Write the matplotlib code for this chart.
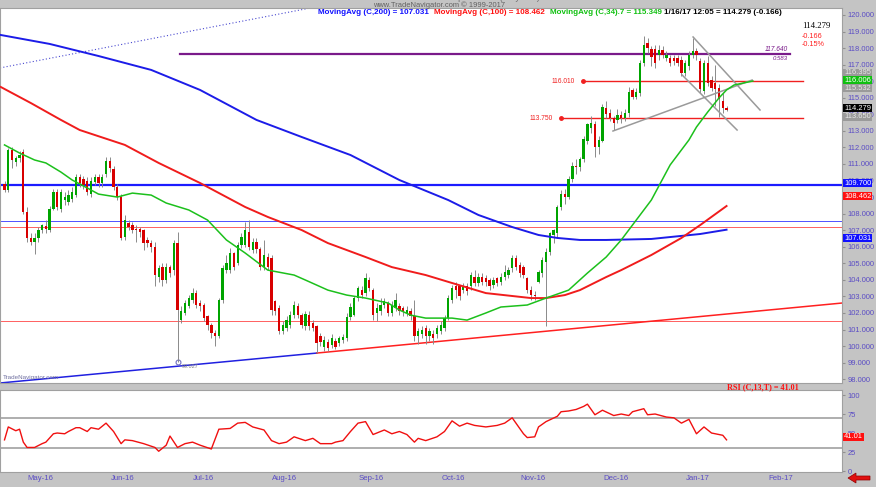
import numpy as np
import pandas as pd
import matplotlib
matplotlib.use("Agg")
import matplotlib.pyplot as plt
from matplotlib.patches import Polygon
from matplotlib.transforms import ScaledTranslation

# USD/JPY daily bars, 21 Apr 2016 .. 16 Jan 2017
opens = [109.80, 109.43, 111.84, 111.14, 111.34, 111.70, 108.12, 106.50, 106.30, 106.50,
         107.00, 107.25, 107.00, 108.30, 109.30, 108.30, 108.80, 108.70, 108.90, 109.10,
         110.20, 110.10, 110.00, 109.20, 109.90, 110.20, 109.85, 110.40, 111.15, 110.70,
         109.60, 109.00, 106.60, 107.45, 107.30, 107.10, 107.05, 107.00, 106.40, 106.20,
         106.00, 104.20, 104.80, 104.00, 104.75, 104.60, 106.20, 101.60, 102.00, 102.40,
         102.80, 103.20, 102.60, 102.50, 101.80, 101.30, 100.80, 100.60, 102.80, 104.60,
         104.60, 105.60, 105.00, 106.10, 106.10, 106.90, 105.80, 106.30, 105.85, 104.80,
         105.40, 105.30, 102.70, 102.30, 100.90, 101.10, 101.30, 101.90, 102.40, 101.90,
         101.20, 101.90, 101.40, 101.20, 100.60, 99.96, 100.26, 100.06, 100.30, 100.16,
         100.36, 100.46, 101.77, 101.90, 102.90, 103.40, 103.20, 104.00, 103.40, 102.00,
         102.10, 102.50, 102.60, 102.00, 102.30, 102.40, 102.30, 102.00, 102.10, 101.80,
         100.60, 100.70, 101.10, 100.60, 100.70, 100.70, 100.90, 101.10, 101.70, 102.80,
         103.60, 103.60, 103.40, 103.60, 103.60, 104.20, 103.80, 104.20, 104.10, 104.00,
         103.70, 104.10, 103.90, 104.20, 104.30, 104.70, 105.30, 104.90, 104.80, 104.10,
         103.40, 103.10, 103.90, 104.40, 105.10, 105.70, 106.70, 106.80, 108.40, 109.20,
         109.00, 110.10, 110.90, 110.80, 111.30, 112.40, 113.20, 113.40, 112.00, 112.40,
         114.40, 114.10, 113.75, 113.65, 113.95, 113.75, 114.05, 115.45, 115.05, 115.30,
         117.10, 118.30, 117.95, 117.95, 117.60, 117.90, 117.40, 117.40, 117.40, 117.40,
         117.30, 116.50, 116.90, 117.60, 117.80, 117.20, 115.40, 117.10, 116.10, 115.90,
         115.60, 114.80, 114.40]
highs = [109.95, 111.95, 112.00, 111.50, 111.80, 111.90, 108.40, 106.80, 106.80, 107.20,
         107.40, 107.60, 108.45, 109.50, 109.50, 109.50, 109.30, 109.40, 109.60, 110.40,
         110.40, 110.30, 110.20, 110.20, 110.40, 110.40, 110.40, 111.45, 111.40, 110.90,
         109.80, 109.20, 107.90, 107.60, 107.50, 107.30, 107.20, 107.10, 106.60, 106.40,
         106.30, 104.90, 105.00, 105.00, 104.90, 106.40, 106.90, 102.40, 102.80, 103.10,
         103.50, 103.40, 102.80, 102.60, 101.90, 101.40, 101.00, 102.90, 104.90, 105.50,
         105.90, 105.70, 106.30, 106.80, 107.50, 107.60, 106.50, 106.50, 106.00, 106.40,
         105.60, 105.50, 102.80, 102.50, 101.50, 101.80, 102.10, 102.70, 102.60, 102.00,
         102.10, 102.10, 101.60, 101.30, 100.80, 100.60, 100.40, 100.70, 100.50, 100.60,
         100.70, 102.00, 102.60, 103.00, 103.60, 103.60, 104.40, 104.20, 103.50, 102.60,
         102.90, 102.90, 102.70, 102.70, 103.20, 102.60, 102.40, 102.40, 102.30, 102.80,
         101.10, 101.20, 101.30, 101.10, 101.00, 101.30, 101.50, 101.90, 103.10, 103.70,
         103.90, 103.70, 103.80, 103.80, 104.50, 104.60, 104.40, 104.40, 104.30, 104.10,
         104.20, 104.20, 104.40, 104.90, 104.80, 105.50, 105.50, 105.10, 104.90, 104.20,
         103.60, 103.30, 104.60, 105.40, 105.90, 106.90, 107.10, 108.50, 109.40, 109.50,
         110.30, 111.10, 111.30, 111.40, 112.70, 113.50, 113.90, 113.60, 112.70, 114.60,
         114.80, 114.30, 113.90, 114.30, 114.20, 114.30, 115.65, 115.60, 115.60, 117.30,
         118.70, 118.60, 118.10, 118.20, 118.20, 118.10, 117.80, 117.60, 117.60, 117.60,
         117.50, 117.30, 117.80, 118.60, 118.00, 117.40, 117.30, 117.50, 116.30, 117.00,
         115.80, 115.30, 114.50]
lows = [109.30, 109.30, 110.75, 110.90, 111.10, 108.00, 106.30, 106.10, 105.55, 106.30,
        106.80, 106.80, 106.90, 108.20, 108.20, 108.10, 108.50, 108.50, 108.70, 109.00,
        109.60, 109.50, 109.10, 109.00, 109.70, 109.60, 109.60, 110.20, 110.50, 109.40,
        108.80, 106.40, 106.40, 107.00, 106.80, 106.30, 106.60, 105.80, 106.00, 105.70,
        103.60, 103.90, 103.60, 103.80, 104.20, 104.30, 99.02, 101.40, 101.90, 102.30,
        102.60, 102.30, 102.10, 101.50, 101.00, 100.50, 100.00, 100.50, 102.60, 104.40,
        104.40, 104.60, 104.90, 105.90, 106.00, 105.80, 105.60, 105.60, 104.60, 104.60,
        104.60, 101.90, 101.90, 100.70, 100.70, 100.90, 101.10, 101.70, 101.70, 101.10,
        101.00, 101.00, 100.90, 99.60, 100.00, 99.70, 99.70, 99.90, 99.80, 100.00,
        100.20, 100.30, 101.60, 101.80, 102.70, 102.90, 103.00, 103.30, 101.60, 101.50,
        101.90, 102.30, 101.80, 101.80, 102.10, 101.90, 101.80, 101.80, 101.60, 100.30,
        100.10, 100.50, 100.10, 100.30, 100.10, 100.50, 100.70, 100.90, 101.60, 102.60,
        102.90, 102.80, 103.20, 103.10, 103.40, 103.60, 103.60, 103.70, 103.60, 103.40,
        103.50, 103.60, 103.70, 104.00, 104.10, 104.50, 104.60, 104.20, 104.10, 103.20,
        102.80, 102.80, 103.80, 104.20, 101.20, 105.50, 106.20, 106.60, 108.20, 108.60,
        108.90, 109.90, 110.40, 110.60, 111.10, 112.20, 112.90, 111.40, 111.60, 112.30,
        113.80, 113.60, 113.05, 113.50, 113.50, 113.60, 113.85, 114.90, 114.90, 115.10,
        116.90, 117.70, 116.90, 116.80, 117.30, 117.40, 117.20, 116.90, 117.00, 116.90,
        116.30, 116.30, 116.70, 117.40, 117.30, 115.30, 115.20, 115.70, 115.40, 114.50,
        113.85, 114.10, 114.20]
closes = [109.45, 111.84, 111.24, 111.34, 111.54, 108.12, 106.50, 106.30, 106.50, 107.00,
          107.30, 107.05, 108.30, 109.30, 108.40, 109.30, 109.00, 109.10, 109.30, 110.20,
          109.85, 109.70, 109.30, 110.00, 110.20, 109.85, 110.20, 111.15, 110.75, 109.60,
          109.00, 106.50, 107.60, 107.20, 107.00, 107.00, 106.90, 106.20, 106.20, 106.00,
          104.30, 104.70, 104.00, 104.80, 104.40, 106.20, 102.20, 102.10, 102.60, 102.90,
          103.20, 102.50, 102.40, 101.70, 101.30, 100.80, 100.60, 102.80, 104.70, 105.00,
          105.60, 104.80, 106.10, 106.60, 107.00, 106.00, 106.30, 105.85, 104.80, 105.50,
          104.80, 102.20, 102.10, 100.90, 101.25, 101.60, 101.90, 102.50, 101.90, 101.30,
          101.95, 101.20, 101.10, 100.20, 100.25, 100.36, 99.86, 100.46, 99.96, 100.46,
          100.57, 101.77, 102.38, 102.90, 103.50, 103.10, 104.10, 103.50, 101.90, 102.30,
          102.50, 102.70, 102.00, 102.50, 102.80, 102.10, 102.10, 102.20, 101.80, 100.60,
          100.90, 101.00, 100.60, 100.90, 100.50, 101.10, 101.30, 101.70, 102.90, 103.50,
          103.40, 103.00, 103.60, 103.30, 104.30, 103.80, 104.20, 103.90, 103.90, 103.60,
          104.00, 103.80, 104.20, 104.50, 104.60, 105.30, 104.80, 104.40, 104.30, 103.40,
          103.10, 103.00, 104.50, 105.20, 105.70, 106.80, 107.00, 108.40, 109.20, 109.00,
          110.10, 110.90, 110.80, 111.30, 112.50, 113.40, 113.50, 112.00, 112.45, 114.45,
          114.00, 113.75, 113.45, 113.95, 113.75, 114.05, 115.35, 115.05, 115.35, 117.10,
          118.20, 118.00, 117.45, 117.10, 117.90, 117.60, 117.60, 117.10, 117.20, 117.10,
          116.50, 117.10, 117.60, 117.80, 117.60, 115.50, 117.10, 115.90, 115.60, 115.50,
          114.90, 114.40, 114.28]

# moving averages read at points along the lines (bar index, value)
ma200_x = [-1, 12, 25, 39, 52, 67, 79, 92, 105, 118, 126, 135, 142, 147, 153, 160, 172, 185, 192]
ma200_y = [118.79, 118.25, 117.52, 116.68, 115.47, 113.66, 112.63, 111.54, 110.03, 108.82,
           107.92, 107.19, 106.71, 106.53, 106.41, 106.41, 106.47, 106.77, 107.03]
ma100_x = [-1, 7, 15, 20, 32, 41, 52, 64, 70, 79, 86, 96, 103, 112, 119, 128, 140, 144,
           149, 153, 160, 164, 172, 180, 185, 192]
ma100_y = [115.65, 114.68, 113.66, 113.05, 112.15, 111.06, 109.85, 108.40, 107.80, 107.01,
           106.22, 105.38, 104.77, 104.29, 103.81, 103.20, 102.90, 102.90, 103.08, 103.38,
           104.17, 104.59, 105.50, 106.53, 107.31, 108.46]
ma34_x = [0, 4, 8, 11, 15, 18, 22, 25, 30, 34, 39, 43, 49, 54, 59, 64, 70, 77, 80, 86,
          91, 96, 102, 105, 108, 112, 119, 123, 128, 132, 139, 144, 150, 155, 160, 164,
          172, 177, 182, 184, 187, 190, 192, 194, 199]
ma34_y = [112.15, 111.66, 111.24, 111.06, 110.51, 110.03, 109.55, 109.18, 109.00, 109.24,
          109.12, 108.64, 108.22, 107.61, 106.41, 105.62, 104.59, 104.29, 103.99, 103.38,
          103.08, 102.90, 102.60, 102.18, 101.87, 101.69, 101.69, 101.57, 102.00, 102.36,
          102.48, 102.90, 103.38, 104.41, 105.38, 106.41, 108.82, 110.94, 112.45, 113.23,
          114.14, 114.99, 115.47, 115.77, 116.01]

# RSI(13) read at points along the line
rsi_x = [0, 1, 3, 4, 5, 6, 8, 10, 11, 13, 14, 16, 17, 19, 20, 22, 23, 25, 27, 29, 31, 32,
         34, 37, 40, 41, 43, 44, 46, 48, 50, 52, 55, 57, 60, 62, 64, 66, 69, 71, 73, 75,
         77, 80, 82, 84, 87, 88, 90, 92, 94, 96, 98, 101, 103, 105, 107, 109, 110, 112,
         115, 117, 119, 121, 123, 125, 128, 131, 133, 135, 136, 138, 139, 141, 142, 144,
         147, 148, 150, 152, 154, 155, 157, 159, 162, 164, 166, 167, 170, 171, 173, 176,
         178, 180, 182, 184, 186, 188, 191, 192]
rsi_y = [41, 58, 53, 55, 38, 31, 31, 36, 38, 49, 50, 49, 52, 57, 57, 52, 57, 55, 63, 52,
         36, 41, 40, 36, 31, 26, 34, 46, 31, 36, 38, 34, 29, 55, 56, 63, 64, 58, 54, 40,
         36, 38, 45, 40, 43, 36, 36, 38, 40, 52, 63, 65, 48, 54, 49, 52, 48, 38, 43, 40,
         45, 52, 66, 59, 63, 60, 58, 60, 63, 70, 63, 49, 44, 45, 58, 65, 72, 78, 79, 81,
         85, 88, 74, 80, 73, 75, 73, 78, 82, 74, 75, 71, 70, 63, 68, 49, 58, 50, 47, 41]

month_labels = ["May-16", "Jun-16", "Jul-16", "Aug-16", "Sep-16", "Oct-16",
                "Nov-16", "Dec-16", "Jan-17", "Feb-17"]
price_ticks = list(range(98, 121))
rsi_ticks = [0, 25, 50, 75, 100]

W, H = 876, 487
BG = "#c4c4c4"
AXC = "#5a4cc4"
plt.rcParams["font.family"] = ["Liberation Sans", "DejaVu Sans"]


def fx(x):
    return x / W


def fy(y):
    return 1 - y / H


fig = plt.figure(figsize=(W / 100, H / 100), dpi=100, facecolor=BG)

# main price panel
ax = fig.add_axes([0, fy(383), fx(842), (383 - 8) / H])
ax.set_facecolor("white")
ax.set_xlim(-1.2, 222.7)
ax.set_ylim(97.77, 120.42)

n = len(closes)
xs = np.arange(n)
o = np.array(opens)
c = np.array(closes)
up = c >= o
ax.vlines(xs, lows, highs, color="#8a8a8a", lw=0.7, zorder=3)
body = np.maximum(np.abs(c - o), 0.04)
ax.bar(xs[up], body[up], bottom=o[up], width=0.62, color="#00a400", zorder=4, lw=0)
ax.bar(xs[~up], body[~up], bottom=c[~up], width=0.62, color="#d80000", zorder=4, lw=0)

# horizontal levels
ax.axhline(109.70, color="#1c1cff", lw=1.6, zorder=2)
ax.axhline(107.56, color="#5050ff", lw=0.7, zorder=2)
ax.axhline(107.22, color="#ff6060", lw=0.7, zorder=2)
ax.axhline(101.51, color="#ff6060", lw=0.7, zorder=2)
ax.plot([46.7, 208.8], [117.64, 117.64], color="#7a1a8a", lw=1.6, zorder=2)
ax.plot([153.9, 212.4], [116.01, 116.01], color="#f02020", lw=1.0, zorder=2)
ax.plot([148.0, 212.4], [113.75, 113.75], color="#f02020", lw=1.0, zorder=2)
ax.plot([153.9], [116.01], "o", color="#f02020", ms=2.5, zorder=3)
ax.plot([148.0], [113.75], "o", color="#f02020", ms=2.5, zorder=3)
ax.text(151.6, 116.01, "116.010", color="#f02020", fontsize=4.8, ha="right", va="center")
ax.text(145.7, 113.75, "113.750", color="#f02020", fontsize=4.8, ha="right", va="center")
ax.text(208.2, 117.72, "117.640", color="#7a1a8a", fontsize=4.8, ha="right", va="bottom", style="italic")
ax.text(208.2, 117.55, "0.583", color="#7a1a8a", fontsize=4.3, ha="right", va="top", style="italic")

# trend lines
ax.plot([-1.2, 83.1], [97.77, 99.58], color="#2020e0", lw=1.1, zorder=2)
ax.plot([83.1, 222.7], [99.58, 102.60], color="#ff2020", lw=1.1, zorder=2)
ax.plot([-1.2, 90.0], [116.80, 120.80], color="#4a4ad0", lw=0.8, ls=(0, (1, 2)), zorder=2)
ax.plot([161.8, 198.8], [112.99, 116.07], color="#9a9a9a", lw=1.1, zorder=5)
ax.plot([183.1, 200.9], [118.67, 114.26], color="#9a9a9a", lw=1.1, zorder=5)
ax.plot([180.2, 194.8], [116.37, 113.05], color="#9a9a9a", lw=1.1, zorder=5)

# moving averages
ax.plot(ma200_x, ma200_y, color="#1c1ce8", lw=1.4, zorder=6)
ax.plot(ma100_x, ma100_y, color="#f01c1c", lw=1.4, zorder=6)
ax.plot(ma34_x, ma34_y, color="#1cc01c", lw=1.1, zorder=6)

# Brexit low marker
ax.plot([46], [99.02], "o", mfc="none", mec="#7070c0", ms=3.5, mew=0.8)
ax.text(47, 98.92, "99.027", color="#808080", fontsize=4, va="top")

ax.yaxis.tick_right()
ax.set_yticks(price_ticks)
ax.set_yticklabels(["%.3f" % t for t in price_ticks])
ax.tick_params(axis="y", colors="#909090", labelcolor=AXC, labelsize=5.4, length=2.5, pad=1.5)
ax.set_xticks([])
for s in ax.spines.values():
    s.set_color("#a0a0a0")
    s.set_linewidth(0.8)


# value boxes on the price scale
def tag(y, txt, fc, tc="white"):
    fig.text(fx(844), fy(y), txt, fontsize=5.4, color=tc, va="center", ha="left",
             bbox=dict(boxstyle="square,pad=0.12", fc=fc, ec="none"))


tag(73, "116.395", "#9a9a9a", "#e8e8e8")
tag(88, "115.532", "#9a9a9a", "#e8e8e8")
tag(80, "116.006", "#10c010")
tag(117, "113.650", "#9a9a9a", "#e8e8e8")
tag(108, "114.279", "black")
tag(183, "109.700", "#1010ff")
tag(196, "108.462", "#ff1010")
tag(238, "107.031", "#1010ff")

# RSI panel
rax = fig.add_axes([0, fy(472), fx(842), (472 - 390) / H])
rax.set_facecolor("white")
rax.set_xlim(-1.2, 222.7)
rax.set_ylim(-1.3, 106.6)
rax.axhline(70, color="#a8a8a8", lw=1.3)
rax.axhline(30, color="#a8a8a8", lw=1.3)
rax.plot(rsi_x, rsi_y, color="#f01010", lw=1.0)
rax.yaxis.tick_right()
rax.set_yticks(rsi_ticks)
rax.tick_params(axis="y", colors="#909090", labelcolor=AXC, labelsize=5.4, length=2.5, pad=1.5)
for s in rax.spines.values():
    s.set_color("#a0a0a0")
    s.set_linewidth(0.8)

# month ticks at the first trading day of each month
dates = pd.bdate_range("2016-04-21", "2017-02-28")
pos = pd.Series(np.arange(len(dates)), index=dates)
firsts = pos.groupby(dates.to_period("M")).first().values[1:]
rax.set_xticks(firsts)
rax.set_xticklabels(month_labels, ha="left")
rax.tick_params(axis="x", colors="#909090", labelcolor=AXC, labelsize=5.6, length=0, pad=2.5)
shift = ScaledTranslation(-0.03, 0, fig.dpi_scale_trans)
for lab in rax.get_xticklabels():
    lab.set_transform(lab.get_transform() + shift)

fig.text(fx(844), fy(437), "41.01", fontsize=5.4, color="white", va="center", ha="left",
         bbox=dict(boxstyle="square,pad=0.12", fc="#ff1010", ec="none"))
fig.text(fx(799), fy(387), "RSI (C,13,T) = 41.01", color="#ff1010", fontsize=5.9,
         ha="right", va="center", family="Liberation Serif", weight="bold")

# header
hy = fy(13)
fig.text(fx(318), hy, "MovingAvg (C,200) = 107.031", color="#1010ff", fontsize=5.8, weight="bold", va="center")
fig.text(fx(434), hy, "MovingAvg (C,100) = 108.462", color="#ff1010", fontsize=5.8, weight="bold", va="center")
fig.text(fx(550), hy, "MovingAvg (C,34).7 = 115.349", color="#10c010", fontsize=5.8, weight="bold", va="center")
fig.text(fx(664), hy, "1/16/17 12:05 = 114.279 (-0.166)", color="black", fontsize=5.8, weight="bold", va="center")
fig.text(fx(456), fy(-1), "USD/JPY - U.S. Dollar/Japanese Yen (Daily Bars)", color="#606060",
         fontsize=5.4, va="center", ha="center")
fig.text(fx(373), fy(5), "www.TradeNavigator.com \u00a9 1999-2017", color="#606060", fontsize=5.4, va="center")
fig.text(fx(802), fy(26), "114.279", color="black", fontsize=6.3, ha="left", va="center", family="Liberation Serif")
fig.text(fx(802), fy(36), "-0.166", color="#ff2020", fontsize=5.2, ha="left", va="center")
fig.text(fx(802), fy(45), "-0.15%", color="#ff2020", fontsize=5.2, ha="left", va="center")
fig.text(fx(3), fy(378), "TradeNavigator.com", color="#7070a0", fontsize=4.5, va="center")

# red arrow at the bottom right
arrow = Polygon([[fx(848), fy(478)], [fx(856), fy(473)], [fx(856), fy(476)], [fx(870), fy(476)],
                 [fx(870), fy(480)], [fx(856), fy(480)], [fx(856), fy(483)]],
                closed=True, transform=fig.transFigure, fc="#e01010", ec="#900000", lw=0.5)
fig.patches.append(arrow)

fig.savefig("out.png", dpi=100, facecolor=BG)
